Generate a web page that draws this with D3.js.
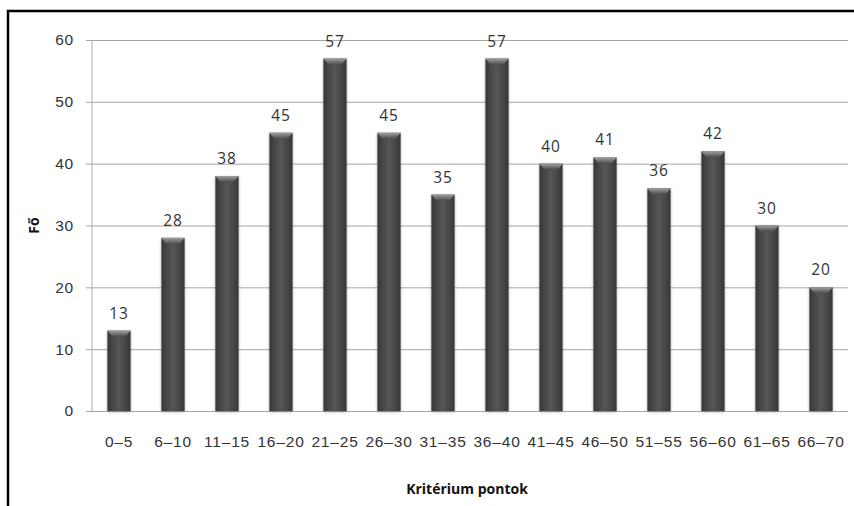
<!DOCTYPE html>
<html>
<head>
<meta charset="utf-8">
<script src="https://cdn.jsdelivr.net/npm/d3@7/dist/d3.min.js"></script>
<style>
  html, body { margin: 0; padding: 0; background: #fff; }
  svg { display: block; font-family: "Open Sans", Lato, sans-serif; }
</style>
</head>
<body>
<svg id="chart" width="854" height="506"></svg>
<script>
const categories = ["0–5", "6–10", "11–15", "16–20", "21–25", "26–30", "31–35",
                    "36–40", "41–45", "46–50", "51–55", "56–60", "61–65", "66–70"];
const values = [13, 28, 38, 45, 57, 45, 35, 57, 40, 41, 36, 42, 30, 20];
const yTicks = [0, 10, 20, 30, 40, 50, 60];
const yTitle = "Fő";
const xTitle = "Kritérium pontok";

const svg = d3.select("#chart");
const plot = { left: 92, right: 848, top: 40, bottom: 411 };

// frame: top and left edges
svg.append("path")
  .attr("d", "M8,506 V11 H854")
  .attr("fill", "none").attr("stroke", "#000").attr("stroke-width", 2.5);

const x = d3.scaleBand().domain(categories).range([plot.left, plot.right])
  .paddingInner(0.57).paddingOuter(0.285);
const y = d3.scaleLinear().domain([0, 60]).range([plot.bottom, plot.top]);

const defs = svg.append("defs");
const body = defs.append("linearGradient").attr("id", "barBody")
  .attr("x1", "0").attr("x2", "1").attr("y1", "0").attr("y2", "0");
body.append("stop").attr("offset", "0").attr("stop-color", "#383838");
body.append("stop").attr("offset", "0.5").attr("stop-color", "#575757");
body.append("stop").attr("offset", "1").attr("stop-color", "#383838");
const cap = defs.append("linearGradient").attr("id", "barCap")
  .attr("x1", "0").attr("x2", "0").attr("y1", "0").attr("y2", "1");
cap.append("stop").attr("offset", "0").attr("stop-color", "#a0a0a0");
cap.append("stop").attr("offset", "1").attr("stop-color", "#4c4c4c");
const shadow = defs.append("filter").attr("id", "shadow")
  .attr("x", "-30%").attr("y", "-10%").attr("width", "160%").attr("height", "120%");
shadow.append("feDropShadow").attr("dx", 0).attr("dy", 1).attr("stdDeviation", 1.5)
  .attr("flood-color", "#000").attr("flood-opacity", 0.3);

const labelStyle = sel => sel.attr("fill", "#333")
  .style("font-size", "15.5px").style("letter-spacing", "0.8px");

// y axis gridlines and labels
const yAxis = d3.axisLeft(y).tickValues(yTicks).tickSize(-(plot.right - plot.left)).tickPadding(18);
const gy = svg.append("g").attr("transform", `translate(${plot.left},0)`).call(yAxis);
gy.select(".domain").remove();
gy.selectAll(".tick line").attr("stroke", "#a6a6a6").attr("x1", -6);
gy.selectAll(".tick text").call(labelStyle);

// vertical axis line
svg.append("line").attr("x1", plot.left).attr("x2", plot.left)
  .attr("y1", plot.top).attr("y2", plot.bottom).attr("stroke", "#b0b0b0");

// x axis labels
const xAxis = d3.axisBottom(x).tickSize(0).tickPadding(25);
const gx = svg.append("g").attr("transform", `translate(0,${plot.bottom})`).call(xAxis);
gx.select(".domain").remove();
gx.selectAll(".tick text").call(labelStyle);

// bars
const bars = svg.append("g").selectAll("g.bar").data(values).join("g").attr("class", "bar");
bars.append("rect")
  .attr("x", (d, i) => x(categories[i]))
  .attr("y", d => y(d))
  .attr("width", x.bandwidth())
  .attr("height", d => y(0) - y(d))
  .attr("fill", "url(#barBody)")
  .attr("filter", "url(#shadow)");
bars.append("path")
  .attr("d", (d, i) => {
    const x0 = x(categories[i]), w = x.bandwidth(), t = y(d), h = 6, s = 5;
    return `M${x0},${t} H${x0 + w} L${x0 + w - s},${t + h} H${x0 + s} Z`;
  })
  .attr("fill", "url(#barCap)");

// value labels
svg.append("g").selectAll("text").data(values).join("text")
  .attr("x", (d, i) => x(categories[i]) + x.bandwidth() / 2)
  .attr("y", d => y(d) - 12)
  .attr("text-anchor", "middle")
  .call(labelStyle)
  .text(d => d);

// axis titles
svg.append("text")
  .attr("transform", `translate(39,${(plot.top + plot.bottom) / 2}) rotate(-90)`)
  .attr("text-anchor", "middle")
  .style("font-size", "14px").style("font-weight", "bold").attr("fill", "#111")
  .text(yTitle);
svg.append("text")
  .attr("x", 467).attr("y", 494)
  .attr("text-anchor", "middle")
  .style("font-size", "14px").style("font-weight", "bold").attr("fill", "#111")
  .text(xTitle);
</script>
</body>
</html>
